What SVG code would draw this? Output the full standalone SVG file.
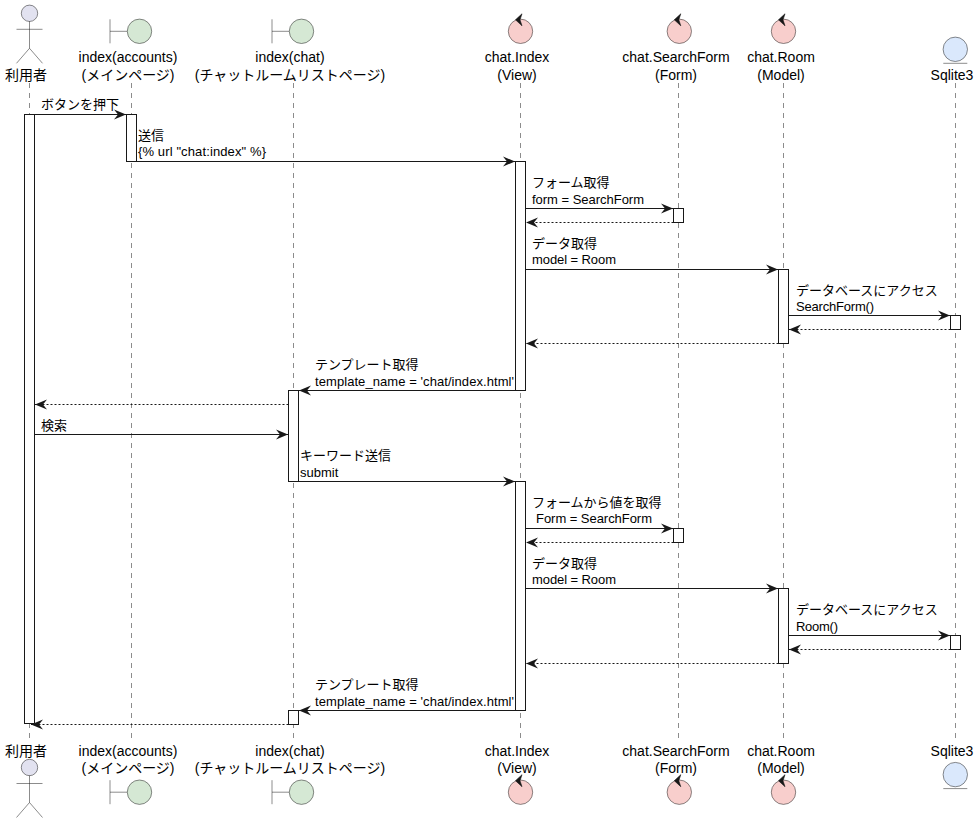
<svg xmlns="http://www.w3.org/2000/svg" width="980" height="823" viewBox="0 0 980 823">
<style>
text{font-family:"Liberation Sans","Noto Sans CJK JP",sans-serif;font-size:13px;fill:#000}
.c{text-anchor:middle;font-size:14px}
.life{stroke:#181818;stroke-width:.5;stroke-dasharray:5 5;fill:none}
.act{fill:#fff;stroke:#181818;stroke-width:1}
.m{stroke:#181818;stroke-width:1;fill:none}
.d{stroke:#181818;stroke-width:1;stroke-dasharray:2 2;fill:none}
.sh{stroke:#181818;stroke-width:.5;fill:none}
.bd{fill:#D5E8D4;stroke:#181818;stroke-width:.5}
.ct{fill:#F8CECC;stroke:#181818;stroke-width:.5}
.en{fill:#DAE8FC;stroke:#181818;stroke-width:.5}
.ac{fill:#E2E2F0;stroke:#181818;stroke-width:.5}
</style>
<defs>
<marker id="a" markerUnits="userSpaceOnUse" markerWidth="14" markerHeight="12" refX="13" refY="6" orient="auto"><path d="M1 1L13 6L1 11L5 6Z" fill="#181818"/></marker>
<g id="boundary"><path class="sh" d="M-18-12V12M-18 0H-1"/><circle class="bd" cx="11.5" cy="0" r="12.2"/></g>
<g id="control"><circle class="ct" cx="0" cy="0" r="12.2"/><path d="M-5-11.5L1.5-17.5L-.5-11.5L1.5-5.5Z" fill="#181818" stroke="#181818" stroke-width=".6"/></g>
<g id="entity"><circle class="en" cx="0" cy="-1" r="12.2"/><path class="sh" d="M-12 13H12"/></g>
<g id="actor"><circle class="ac" cx="0" cy="-16" r="8.2"/><path class="sh" d="M0-8V19M-13 0H13M0 19L-13 34M0 19L13 34"/></g>
</defs>
<g id="lifelines">
<path class="life" d="M29.5 83V738M131.5 83V738M293.5 83V738M520.5 83V738M678.5 83V738M783.5 83V738M955.5 83V738"/>
</g>
<g id="activations">
<rect class="act" x="24.5" y="114.5" width="10" height="609"/>
<rect class="act" x="126.5" y="114.5" width="10" height="47"/>
<rect class="act" x="515.5" y="161.5" width="10" height="229"/>
<rect class="act" x="673.5" y="208.5" width="10" height="14"/>
<rect class="act" x="778.5" y="269.5" width="10" height="74"/>
<rect class="act" x="950.5" y="315.5" width="10" height="14"/>
<rect class="act" x="288.5" y="390.5" width="10" height="91"/>
<rect class="act" x="515.5" y="481.5" width="10" height="229"/>
<rect class="act" x="673.5" y="528.5" width="10" height="14"/>
<rect class="act" x="778.5" y="588.5" width="10" height="75"/>
<rect class="act" x="950.5" y="635.5" width="10" height="14"/>
<rect class="act" x="288.5" y="710.5" width="10" height="14"/>
</g>
<g id="connectors">
<path class="m" marker-end="url(#a)" d="M34.5 114.5H126"/>
<path class="m" marker-end="url(#a)" d="M126.5 161.5H515"/>
<path class="m" marker-end="url(#a)" d="M525.5 208.5H673"/>
<path class="d" marker-end="url(#a)" d="M673.5 222.5H526"/>
<path class="m" marker-end="url(#a)" d="M525.5 269.5H778"/>
<path class="m" marker-end="url(#a)" d="M788.5 315.5H950"/>
<path class="d" marker-end="url(#a)" d="M950.5 329.5H789"/>
<path class="d" marker-end="url(#a)" d="M778.5 343.5H526"/>
<path class="m" marker-end="url(#a)" d="M515.5 390.5H299"/>
<path class="d" marker-end="url(#a)" d="M288.5 404.5H35"/>
<path class="m" marker-end="url(#a)" d="M34.5 434.5H288"/>
<path class="m" marker-end="url(#a)" d="M288.5 481.5H515"/>
<path class="m" marker-end="url(#a)" d="M525.5 528.5H673"/>
<path class="d" marker-end="url(#a)" d="M673.5 542.5H526"/>
<path class="m" marker-end="url(#a)" d="M525.5 588.5H778"/>
<path class="m" marker-end="url(#a)" d="M788.5 635.5H950"/>
<path class="d" marker-end="url(#a)" d="M950.5 649.5H789"/>
<path class="d" marker-end="url(#a)" d="M778.5 663.5H526"/>
<path class="m" marker-end="url(#a)" d="M515.5 710.5H299"/>
<path class="d" marker-end="url(#a)" d="M288.5 724.5H31"/>
</g>
<g id="labels">
<text x="41" y="109">ボタンを押下</text>
<text x="138" y="140">送信</text><text x="138" y="156" textLength="128">{% url "chat:index" %}</text>
<text x="532" y="187">フォーム取得</text><text x="532" y="204" textLength="112">form = SearchForm</text>
<text x="532" y="248">データ取得</text><text x="532" y="264" textLength="84">model = Room</text>
<text x="796" y="295">データベースにアクセス</text><text x="796" y="311" textLength="78">SearchForm()</text>
<text x="315" y="369">テンプレート取得</text><text x="315" y="386" textLength="199">template_name = 'chat/index.html'</text>
<text x="41" y="430">検索</text>
<text x="300" y="460">キーワード送信</text><text x="300" y="477">submit</text>
<text x="532" y="507">フォームから値を取得</text><text x="536" y="523" textLength="116">Form = SearchForm</text>
<text x="532" y="568">データ取得</text><text x="532" y="584" textLength="84">model = Room</text>
<text x="796" y="614">データベースにアクセス</text><text x="796" y="631" textLength="42">Room()</text>
<text x="315" y="689">テンプレート取得</text><text x="315" y="706" textLength="199">template_name = 'chat/index.html'</text>
</g>
<g id="p-user"><use href="#actor" x="29.5" y="29.3"/><text class="c" x="26" y="80">利用者</text></g>
<g id="p-accounts"><use href="#boundary" x="128" y="31.3"/><text class="c" x="128" y="62">index(accounts)</text><text class="c" x="128" y="80">(メインページ)</text></g>
<g id="p-chat"><use href="#boundary" x="290" y="31.3"/><text class="c" x="290" y="62">index(chat)</text><text class="c" x="290" y="80">(チャットルームリストページ)</text></g>
<g id="p-index"><use href="#control" x="520.5" y="31.3"/><text class="c" x="517" y="62">chat.Index</text><text class="c" x="517" y="80">(View)</text></g>
<g id="p-form"><use href="#control" x="679.3" y="31.3"/><text class="c" x="676" y="62">chat.SearchForm</text><text class="c" x="676" y="80">(Form)</text></g>
<g id="p-room"><use href="#control" x="783.5" y="31.3"/><text class="c" x="781" y="62">chat.Room</text><text class="c" x="781" y="80">(Model)</text></g>
<g id="p-sqlite"><use href="#entity" x="955.3" y="50.3"/><text class="c" x="952" y="80">Sqlite3</text></g>
<g id="p-user-b"><use href="#actor" x="29.5" y="783.5"/><text class="c" x="26" y="756">利用者</text></g>
<g id="p-accounts-b"><use href="#boundary" x="128" y="792.2"/><text class="c" x="128" y="756">index(accounts)</text><text class="c" x="128" y="773">(メインページ)</text></g>
<g id="p-chat-b"><use href="#boundary" x="290" y="792.2"/><text class="c" x="290" y="756">index(chat)</text><text class="c" x="290" y="773">(チャットルームリストページ)</text></g>
<g id="p-index-b"><use href="#control" x="520.5" y="792.2"/><text class="c" x="517" y="756">chat.Index</text><text class="c" x="517" y="773">(View)</text></g>
<g id="p-form-b"><use href="#control" x="679.3" y="792.2"/><text class="c" x="676" y="756">chat.SearchForm</text><text class="c" x="676" y="773">(Form)</text></g>
<g id="p-room-b"><use href="#control" x="783.5" y="792.2"/><text class="c" x="781" y="756">chat.Room</text><text class="c" x="781" y="773">(Model)</text></g>
<g id="p-sqlite-b"><use href="#entity" x="955.3" y="775.6"/><text class="c" x="952" y="756">Sqlite3</text></g>
</svg>
